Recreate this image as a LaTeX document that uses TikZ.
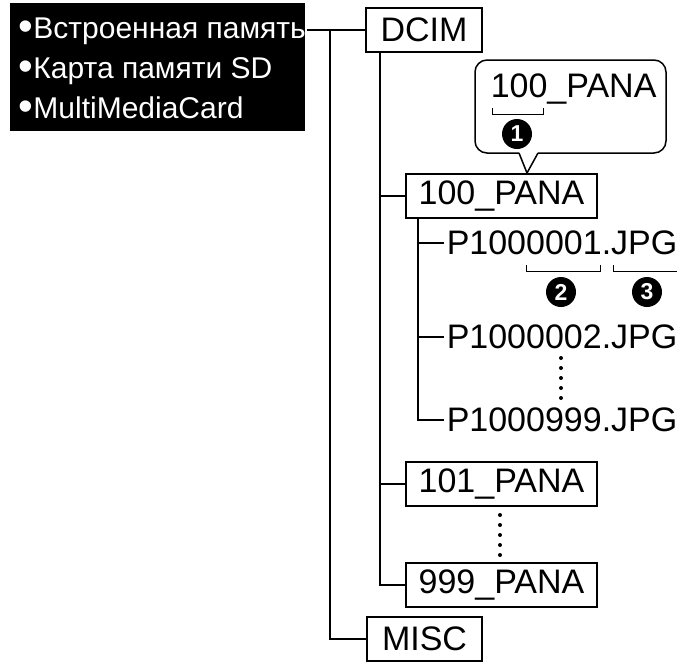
\documentclass[tikz,border=0pt]{standalone}
\usepackage{fontspec}
\setmainfont{Liberation Sans}
\usetikzlibrary{positioning}

\newcommand{\mbullet}{\raisebox{-2.5pt}{\fontsize{42}{42}\selectfont\textbullet}}

\tikzset{
  folder/.style={draw, line width=1.5pt, minimum height=44pt, inner sep=0pt},
  filename/.style={anchor=west, inner sep=2pt},
  numdot/.style={circle, fill=black, text=white, inner sep=0pt, minimum size=30pt,
    font=\fontsize{23}{23}\selectfont\bfseries},
  media/.style={anchor=base west, text=white, inner sep=0pt, font=\fontsize{30}{36}\selectfont},
}

\begin{document}
\begin{tikzpicture}[x=1pt, y=-1pt, line width=1.5pt, font=\fontsize{34}{40}\selectfont]
  \useasboundingbox (0,0) rectangle (677,662);
  % memory media
  \fill[black] (10,3) rectangle (305,131);
  \node[media] (mem) at (18,38) {\mbullet{}Встроенная память};
  \node[media] (card) at (18,78) {\mbullet{}Карта памяти SD};
  \node[media] (mmc) at (18,118) {\mbullet{}MultiMediaCard};
  % folders
  \node[folder, minimum width=116pt] (dcim) at (424,30) {DCIM};
  \node[folder, minimum width=115pt] (misc) at (424.5,639) {MISC};
  \node[folder, minimum width=191pt] (pana100) at (501.5,196) {100\_PANA};
  \node[folder, minimum width=191pt] (pana101) at (501.5,484) {101\_PANA};
  \node[folder, minimum width=191pt] (pana999) at (501.5,585) {999\_PANA};
  % files
  \node[filename] (file1) at (444,243) {P1000001.JPG};
  \node[filename] (file2) at (444,337) {P1000002.JPG};
  \node[filename] (file999) at (444,420) {P1000999.JPG};
  % tree lines
  \coordinate (root) at (330,30);
  \coordinate (dtrunk) at ([xshift=-44pt]dcim.south);
  \coordinate (ftrunk) at ([xshift=-83.5pt]pana100.south);
  \draw (mem.east |- dcim.west) -- (dcim.west);
  \draw (root) |- (misc.west);
  \draw (dtrunk) |- (pana999.west);
  \draw (dtrunk |- pana100.west) -- (pana100.west);
  \draw (dtrunk |- pana101.west) -- (pana101.west);
  \draw (ftrunk) |- (file999.west);
  \draw (ftrunk |- file1.west) -- (file1.west);
  \draw (ftrunk |- file2.west) -- (file2.west);
  \foreach \k in {0,...,4} {
    \fill (561,358+10*\k) circle (2pt);
    \fill (500,515+10*\k) circle (2pt);
  }
  % callout
  \draw[rounded corners=12pt] (519,153) -- (475,153) -- (475,60) -- (666,60) -- (666,153) -- (538,153);
  \draw[line join=miter] (538,153) -- (527,173) -- (519,153);
  \node[anchor=base west, inner sep=0pt] (calltext) at (490,97) {100\_PANA};
  \draw[line width=1pt] (492,108) -- (492,114) -- (543,114) -- (543,108);
  \node[numdot] (numone) at (517,134) {1};
  % file name parts
  \draw[line width=1pt] (526,265) -- (526,271) -- (600,271) -- (600,265);
  \draw[line width=1pt] (613,265) -- (613,271) -- (677,271);
  \node[numdot] (numtwo) at (561,292) {2};
  \node[numdot] (numthree) at (647,292) {3};
\end{tikzpicture}
\end{document}
